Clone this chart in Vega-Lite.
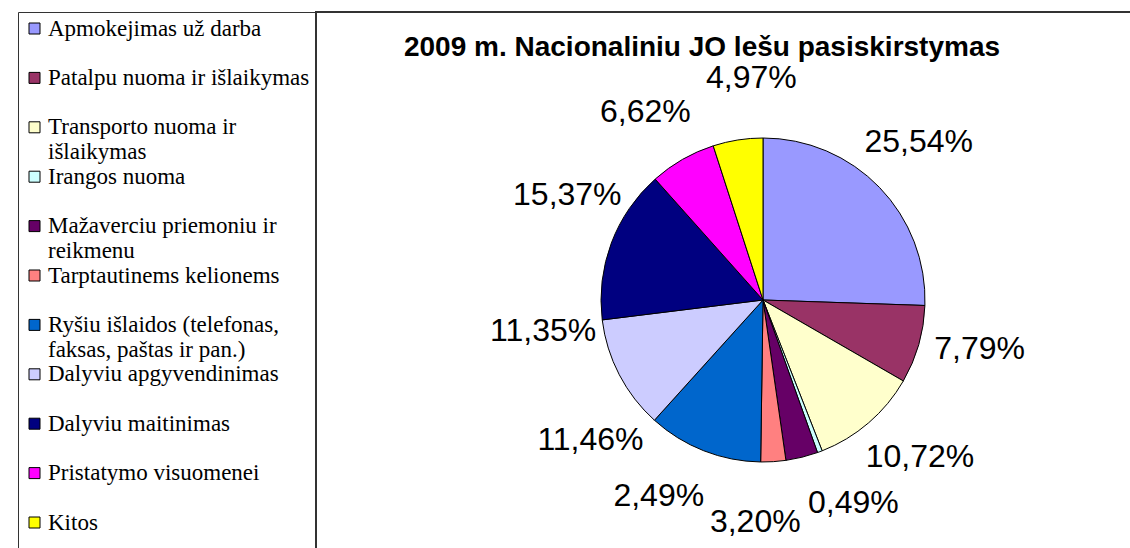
{
  "$schema": "https://vega.github.io/schema/vega-lite/v6.json",
  "autosize": {"type": "fit", "contains": "padding"},
  "width": 1130,
  "height": 548,
  "padding": {"left": 316, "top": 12, "right": -80, "bottom": -40},
  "background": "white",
  "view": {"stroke": "#333", "strokeWidth": 2},
  "title": {
    "text": "2009 m. Nacionaliniu JO lešu pasiskirstymas",
    "font": "Liberation Sans",
    "fontSize": 28,
    "fontWeight": "bold",
    "color": "#000",
    "anchor": "middle",
    "offset": -50,
    "dx": -61
  },
  "data": {
    "values": [
      {"i": 1, "category": "Apmokejimas už darba", "share": 0.2554},
      {"i": 2, "category": "Patalpu nuoma ir išlaikymas", "share": 0.0779},
      {"i": 3, "category": "Transporto nuoma ir išlaikymas", "share": 0.1072},
      {"i": 4, "category": "Irangos nuoma", "share": 0.0049},
      {"i": 5, "category": "Mažaverciu priemoniu ir reikmenu", "share": 0.0320},
      {"i": 6, "category": "Tarptautinems kelionems", "share": 0.0249},
      {"i": 7, "category": "Ryšiu išlaidos (telefonas, faksas, paštas ir pan.)", "share": 0.1146},
      {"i": 8, "category": "Dalyviu apgyvendinimas", "share": 0.1135},
      {"i": 9, "category": "Dalyviu maitinimas", "share": 0.1537},
      {"i": 10, "category": "Pristatymo visuomenei", "share": 0.0662},
      {"i": 11, "category": "Kitos", "share": 0.0497}
    ]
  },
  "layer": [
    {
      "mark": {"type": "arc", "outerRadius": 162, "stroke": "#000", "strokeWidth": 1},
      "encoding": {
        "theta": {"field": "share", "type": "quantitative", "stack": true},
        "order": {"field": "i", "type": "quantitative"},
        "color": {
          "field": "category",
          "type": "nominal",
          "sort": null,
          "scale": {
            "domain": ["Apmokejimas už darba", "Patalpu nuoma ir išlaikymas", "Transporto nuoma ir išlaikymas", "Irangos nuoma", "Mažaverciu priemoniu ir reikmenu", "Tarptautinems kelionems", "Ryšiu išlaidos (telefonas, faksas, paštas ir pan.)", "Dalyviu apgyvendinimas", "Dalyviu maitinimas", "Pristatymo visuomenei", "Kitos"],
            "range": ["#9999FF", "#993366", "#FFFFCC", "#CCFFFF", "#660066", "#FF8080", "#0066CC", "#CCCCFF", "#000080", "#FF00FF", "#FFFF00"]
          },
          "legend": {
            "orient": "none",
            "legendX": -298,
            "legendY": 0,
            "title": null,
            "padding": 5,
            "strokeColor": "#333",
            "symbolType": "square",
            "symbolSize": 121,
            "symbolStrokeColor": "#000",
            "symbolStrokeWidth": 1,
            "labelFont": "Liberation Serif",
            "labelFontSize": 23,
            "labelColor": "#000",
            "labelOffset": 2,
            "labelLimit": 400,
            "labelBaseline": "middle",
            "rowPadding": 0.4,
            "labelExpr": "datum.label == 'Transporto nuoma ir išlaikymas' ? ['Transporto nuoma ir', 'išlaikymas'] : datum.label == 'Mažaverciu priemoniu ir reikmenu' ? ['Mažaverciu priemoniu ir', 'reikmenu'] : datum.label == 'Ryšiu išlaidos (telefonas, faksas, paštas ir pan.)' ? ['Ryšiu išlaidos (telefonas,', 'faksas, paštas ir pan.)'] : [datum.label, ' ']"
          }
        }
      }
    },
    {
      "mark": {"type": "text", "radius": 222, "font": "Liberation Sans", "fontSize": 32, "color": "#000"},
      "encoding": {
        "theta": {
          "field": "share",
          "type": "quantitative",
          "stack": true,
          "scale": {"domain": [0, 0.3869, 0.44295, 0.4614, 0.48985, 0.5596, 0.9172, 0.97515, 1], "range": [0, 2.3562, 2.7227, 3.1765, 3.6303, 4.0317, 5.7247, 6.2308, 6.2832]}
        },
        "order": {"field": "i", "type": "quantitative"},
        "detail": {"field": "category", "type": "nominal"},
        "text": {"field": "share", "type": "quantitative", "format": ".2%"}
      }
    }
  ],
  "resolve": {"scale": {"theta": "independent"}},
  "config": {
    "locale": {"number": {"decimal": ",", "thousands": " ", "grouping": [3], "currency": ["", " €"]}}
  }
}
